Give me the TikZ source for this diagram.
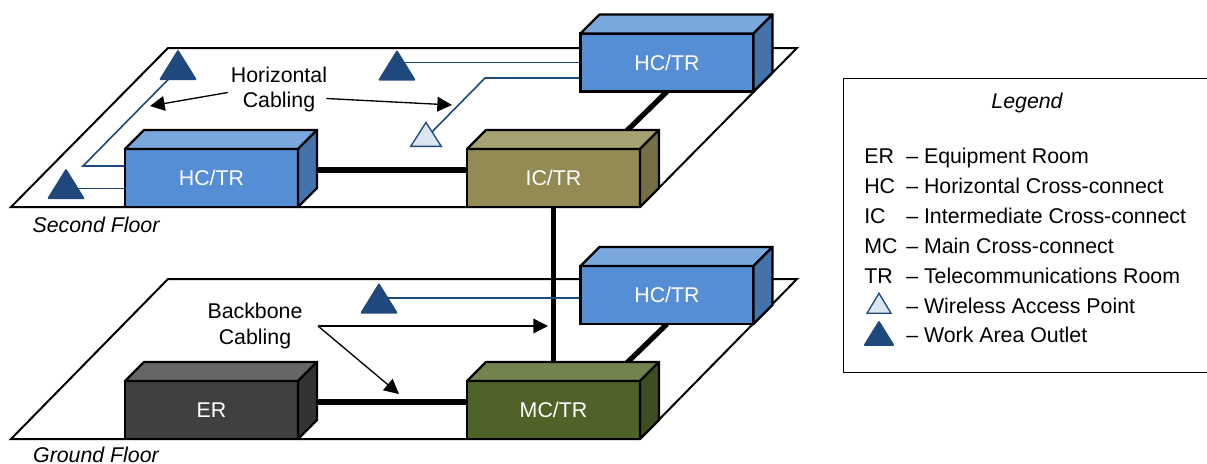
\documentclass[tikz,border=0pt]{standalone}
\usepackage{fontspec}
\setmainfont{Liberation Sans}
\usetikzlibrary{arrows.meta,backgrounds,shapes.geometric}
\definecolor{hcfront}{HTML}{558ED5}
\definecolor{hctop}{HTML}{7BA7DF}
\definecolor{hcside}{HTML}{4472AA}
\definecolor{icfront}{HTML}{948A54}
\definecolor{ictop}{HTML}{A6A173}
\definecolor{icside}{HTML}{776F44}
\definecolor{erfront}{HTML}{404040}
\definecolor{ertop}{HTML}{666666}
\definecolor{erside}{HTML}{333333}
\definecolor{mcfront}{HTML}{4F6228}
\definecolor{mctop}{HTML}{71834F}
\definecolor{mcside}{HTML}{3F4E20}
\definecolor{cableblue}{HTML}{1F497D}
\definecolor{wirelessfill}{HTML}{DCE6F2}
\begin{document}
\begin{tikzpicture}[
    x=0.75pt, y=-0.75pt,
    every node/.append style={font=\fontsize{16}{18.9}\selectfont},
    roombox/.style={rectangle, draw=black, line width=1.75pt, text=white, outer sep=0pt, minimum width=129.75pt, minimum height=43.5pt},
    boxedge/.style={draw=black, line width=1.75pt, line join=round},
    floorline/.style={draw=black, line width=1.5pt},
    backbone/.style={line width=3.9pt, black},
    hcable/.style={line width=1.2pt, cableblue},
    pointer/.style={-{Triangle[length=11pt,width=11pt]}, line width=1pt},
    trishape/.style={isosceles triangle, isosceles triangle stretches, shape border rotate=90, inner sep=0pt, outer sep=0pt},
    outlet/.style={trishape, draw=cableblue, fill=cableblue, line width=1.5pt, line join=round, minimum width=26pt, minimum height=21pt},
    wireless/.style={trishape, draw=cableblue, fill=wirelessfill, line width=1pt, minimum width=23pt, minimum height=18pt},
    legtext/.style={anchor=base west, inner sep=0pt}
]
    \useasboundingbox (0,0) rectangle (1207,464);

    % rooms
    \foreach \bname/\bx/\by/\btext/\bcol in {
        hcwest/211.5/178/HC\slash TR/hc,
        ic/553.5/178/IC\slash TR/ic,
        hceast/667/62.5/HC\slash TR/hc,
        hcground/667/295/HC\slash TR/hc,
        er/211.5/410/ER/er,
        mc/553.5/410/MC\slash TR/mc} {
        \node[roombox, fill=\bcol front] (\bname) at (\bx,\by) {\btext};
        \draw[boxedge, fill=\bcol top] (\bname.north west) -- ++(19,-19) -- ++(173,0) -- (\bname.north east) -- cycle;
        \draw[boxedge, fill=\bcol side] (\bname.north east) -- ++(19,-19) -- ++(0,58) -- (\bname.south east) -- cycle;
    }

    % outlets
    \node[outlet] (otop) at (178,69.5) {};
    \node[outlet] (oleft) at (66,188.5) {};
    \node[outlet] (omid) at (397,70) {};
    \node[outlet] (oground) at (379,303) {};
    \node[wireless] (wap) at (426,138) {};

    \coordinate (bendwest) at (83,166);
    \coordinate (bendeast) at (485,78);

    \begin{pgfonlayer}{background}
        \draw[floorline] (11,207) -- (168,48) -- (797,48) -- (640,207) -- cycle;
        \draw[floorline] (11,439) -- (168,279) -- (797,279) -- (640,439) -- cycle;

        \draw[backbone] ([yshift=6pt]hcwest.east) -- ([yshift=6pt]hcwest.east -| ic.west);
        \draw[backbone] (hceast.south) -- ([xshift=41pt]ic.north);
        \draw[backbone] (ic.south) -- (mc.north);
        \draw[backbone] ([yshift=6pt]er.east) -- ([yshift=6pt]er.east -| mc.west);
        \draw[backbone] (hcground.south) -- ([xshift=41pt]mc.north);

        \draw[hcable] (otop.center) -- (bendwest) -- (bendwest -| hcwest.west);
        \draw[hcable] (oleft.center) -- (oleft.center -| hcwest.west);
        \draw[hcable] (hceast.west) -- (hceast.west -| omid);
        \draw[hcable] (wap.center) -- (bendeast) -- (bendeast -| hceast.west);
        \draw[hcable] ([yshift=-2.25pt]hcground.west) -- ([yshift=-2.25pt]hcground.west -| oground);
    \end{pgfonlayer}

    % labels and pointers
    \node[inner sep=2.25pt, align=center] (hlabel) at (279,89.5) {Horizontal\\Cabling};
    \coordinate (htipwest) at (150,106);
    \coordinate (htipeast) at (452,105);
    \draw[pointer] ([yshift=-2.25pt]hlabel.west) -- (htipwest);
    \draw[pointer] ([shift={(-3pt,-6.75pt)}]hlabel.east) -- (htipeast);

    \node[inner sep=2.25pt, align=center] (blabel) at (255,326) {Backbone\\Cabling};
    \coordinate (bstart) at (318,326);
    \coordinate (btipright) at (548,326);
    \coordinate (btipdown) at (399,394);
    \draw[pointer] (bstart) -- (btipright);
    \draw[pointer] (bstart) -- (btipdown);

    \node[inner sep=0pt, font=\fontsize{16}{18.9}\selectfont\itshape] (second) at (96,225) {Second Floor};
    \node[inner sep=0pt, font=\fontsize{16}{18.9}\selectfont\itshape] (ground) at (96,455) {Ground Floor};

    % legend
    \node[rectangle, draw=black, line width=0.75pt, minimum width=276pt, minimum height=221pt, outer sep=0pt] (legend) at (1027,225.5) {};
    \node[font=\fontsize{16}{18.9}\selectfont\itshape] (legendtitle) at (1027,103) {Legend};
    \foreach \abbr/\desc [count=\i] in {ER/Equipment Room, HC/Horizontal Cross-connect, IC/Intermediate Cross-connect, MC/Main Cross-connect, TR/Telecommunications Room} {
        \node[legtext] (abbr\i) at (864,{133+30*\i}) {\abbr};
        \node[legtext] (desc\i) at (906,{133+30*\i}) {-- \desc};
    }
    \node[wireless, minimum width=18pt, minimum height=15pt] (legwap) at (879,306.5) {};
    \node[legtext] (descwap) at (906,313) {-- Wireless Access Point};
    \node[outlet, minimum width=21pt, minimum height=17pt] (legoutlet) at (879,337) {};
    \node[legtext] (descoutlet) at (906,342) {-- Work Area Outlet};
\end{tikzpicture}
\end{document}
